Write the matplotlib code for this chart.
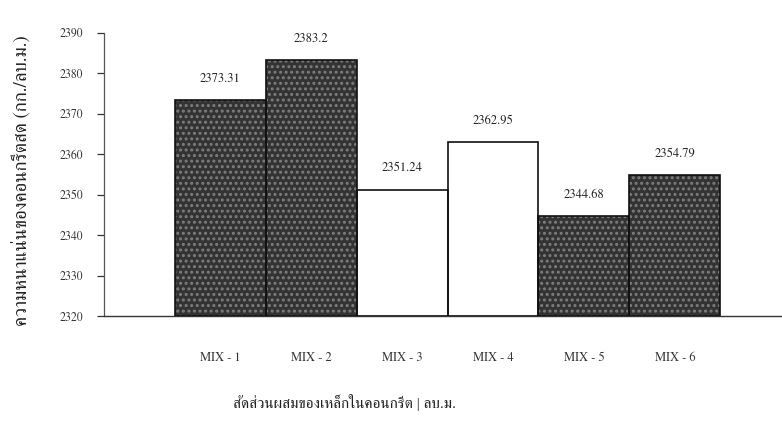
import matplotlib
matplotlib.use("Agg")
import matplotlib.pyplot as plt
import numpy as np

plt.rcParams["font.family"] = ["FreeSerif", "DejaVu Serif"]
plt.rcParams["hatch.linewidth"] = 1.4

mixes = ["MIX - 1", "MIX - 2", "MIX - 3", "MIX - 4", "MIX - 5", "MIX - 6"]
density = [2373.31, 2383.2, 2351.24, 2362.95, 2344.68, 2354.79]
dark_bar = [True, True, False, False, True, True]

y_ticks = [2320, 2330, 2340, 2350, 2360, 2370, 2380, 2390]

fig = plt.figure(figsize=(7.82, 4.21), dpi=100)
ax = fig.add_axes([0.133, 0.249, 0.867, 0.673])

x = np.arange(len(mixes))
base = y_ticks[0]
heights = [d - base for d in density]
faces = ["#333333" if d else "white" for d in dark_bar]

# filled bars, then a speckle layer on the dark ones, then outlines
ax.bar(x, heights, width=1.0, bottom=base, color=faces, edgecolor="none", zorder=2)
for xi, h, d in zip(x, heights, dark_bar):
    if d:
        ax.bar(xi, h, width=1.0, bottom=base, facecolor="none", edgecolor="#7e7e7e",
               hatch="...", linewidth=0, zorder=3)
ax.bar(x, heights, width=1.0, bottom=base, facecolor="none", edgecolor="#111111",
       linewidth=1.2, zorder=4)

for xi, v in zip(x, density):
    ax.annotate(f"{v:g}", (xi, v), xytext=(0, 11), textcoords="offset points",
                ha="center", va="bottom", fontsize=9, color="#222222")

ax.set_xlim(-1.28, 6.18)
ax.set_ylim(2320, 2390)
ax.set_yticks(y_ticks)
ax.tick_params(axis="y", direction="out", length=5, width=0.9, labelsize=8.5,
               colors="#333333", pad=10)
ax.set_xticks(x)
ax.set_xticklabels(mixes, fontsize=9, color="#333333")
ax.tick_params(axis="x", length=0, pad=26)

for s in ["top", "right"]:
    ax.spines[s].set_visible(False)
ax.spines["left"].set_color("#555555")
ax.spines["left"].set_linewidth(0.9)
ax.spines["bottom"].set_color("#333333")
ax.spines["bottom"].set_linewidth(1.0)

fig.text(0.441, 0.045, "สัดส่วนผสมของเหล็กในคอนกรีต | ลบ.ม.", ha="center", va="center",
         fontsize=11, color="#222222")
fig.text(0.026, 0.572, "ความหนาแน่นของคอนกรีตสด (กก./ลบ.ม.)", rotation=90,
         ha="center", va="center", fontsize=13.5, color="#222222")

fig.savefig("out.png", dpi=100)
